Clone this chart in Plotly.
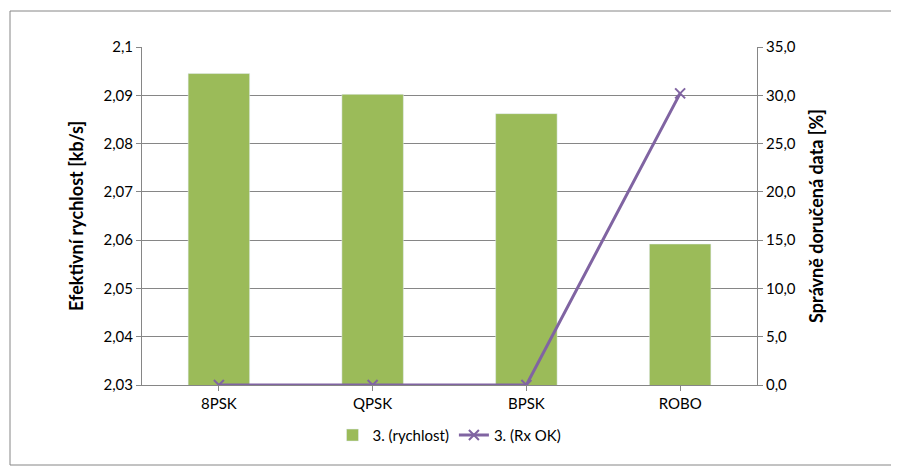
import plotly.graph_objects as go

categories = ["8PSK", "QPSK", "BPSK", "ROBO"]
rychlost = [2.0945, 2.0902, 2.0862, 2.0592]
rx_ok = [0.0, 0.0, 0.0, 30.2]

# the page body shifts the figure by 8px; work in screen px and subtract OFF
OFF = 8
L, R, T, B = 142, 757, 47, 385
FW, FH = 899 - OFF, 470 - OFF
W, H = R - L, B - T

fig = go.Figure()
fig.add_trace(go.Bar(x=categories, y=rychlost, name="3. (rychlost)",
                     marker_color="#9bbb59", yaxis="y"))
fig.add_trace(go.Scatter(x=categories, y=rx_ok, name="3. (Rx OK)", yaxis="y2",
                         mode="lines+markers",
                         line=dict(color="#8064a2", width=3),
                         marker=dict(symbol="x-thin", size=10,
                                     line=dict(color="#8064a2", width=2))))

fig.update_layout(
    width=FW, height=FH,
    font=dict(family="Lato", size=15, color="black"),
    plot_bgcolor="white", paper_bgcolor="white",
    margin=dict(l=L - OFF, r=FW - R + OFF, t=T - OFF, b=FH - B + OFF),
    bargap=0.6,
    separators=", ",
    xaxis=dict(showline=True, linecolor="#868686", ticks="outside",
               tickcolor="#868686"),
    yaxis=dict(range=[2.03, 2.1], dtick=0.01, tickformat=".3~f",
               showgrid=False, showline=True, linecolor="#868686", ticks="outside",
               tickcolor="#868686", zeroline=False,
               title=dict(text="<b>Efektivní rychlost [kb/s]</b>", font=dict(size=18))),
    yaxis2=dict(range=[0, 35], dtick=5, tickformat=".1f", overlaying="y",
                side="right", showgrid=True, gridcolor="#868686", showline=True,
                linecolor="#868686", ticks="outside", tickcolor="#868686",
                zeroline=False,
                title=dict(text="<b>Správně doručená data [%]</b>", font=dict(size=18))),
    legend=dict(orientation="h", x=0.5, xanchor="center", y=-0.1, yanchor="top"),
    shapes=[dict(type="rect", xref="paper", yref="paper", layer="below",
                 x0=(10 - L) / W, x1=(894 - L) / W,
                 y0=(B - 465) / H, y1=(B - 11) / H,
                 line=dict(color="#868686", width=1))],
)
fig.write_html("out.html")
